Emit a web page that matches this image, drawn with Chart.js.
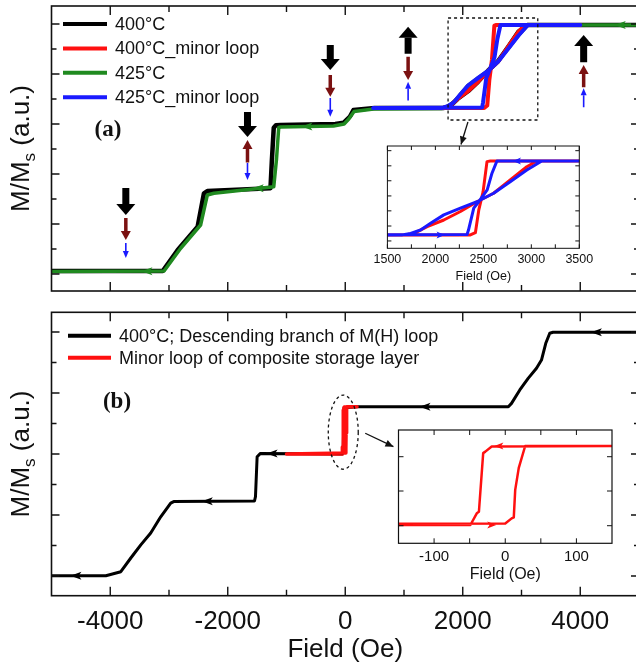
<!DOCTYPE html>
<html>
<head>
<meta charset="utf-8">
<script src="https://cdn.jsdelivr.net/npm/chart.js@4.4.0/dist/chart.umd.min.js"></script>
<style>
html, body { margin: 0; background: #fff; overflow: hidden; width: 636px; height: 669px; }
canvas { position: absolute; }
</style>
</head>
<body>
<canvas id="pa" width="700" height="300" style="left:0;top:0"></canvas>
<canvas id="pb" width="700" height="369" style="left:0;top:300px"></canvas>
<canvas id="ia" width="230" height="150" style="left:370px;top:140px"></canvas>
<canvas id="ib" width="240" height="170" style="left:380px;top:420px"></canvas>
<script>
// tick labels
const fieldTicks = [-4000, -2000, 0, 2000, 4000];
const fieldMinor = [-3000, -1000, 1000, 3000];
const insetATicks = [1500, 2000, 2500, 3000, 3500];
const insetBTicks = [-100, 0, 100];

// legend names
const seriesA = ['400°C', '400°C_minor loop', '425°C', '425°C_minor loop'];
const seriesB = ['400°C; Descending branch of M(H) loop', 'Minor loop of composite storage layer'];

// (a) [field Oe, M/Ms a.u.]
const a400 = [[5000,9.96],[3100,9.96],[2950,9.70],[2780,9.11],[2600,8.51],[2430,8.13],[2260,7.69],[2090,7.31],[1915,7.01],[1780,6.71],[1670,6.64],[500,6.64],[140,6.56],[80,6.30],[-30,6.05],[-170,6.00],[-1100,5.96],[-1180,5.95],[-1217,5.85],[-1250,4.50],[-1273,3.43],[-2348,3.32],[-2405,3.23],[-2513,1.89],[-2852,0.96],[-3107,0.12],[-5000,0.12]];
const a400minor = [[1000,6.64],[2365,6.64],[2417,6.74],[2452,7.75],[2497,8.57],[2538,9.93],[2573,9.96],[4000,9.96],[3057,9.96],[2953,9.70],[2780,9.11],[2607,8.51],[2434,8.13],[2261,7.69],[2088,7.31],[1915,7.01],[1777,6.71],[1673,6.64],[1000,6.64]];
const a425 = [[5000,9.96],[3110,9.96],[2950,9.55],[2780,9.03],[2600,8.51],[2430,8.13],[2260,7.84],[2090,7.54],[1950,7.16],[1845,6.86],[1740,6.71],[1650,6.62],[480,6.60],[150,6.50],[60,6.20],[-20,6.00],[-200,5.92],[-1100,5.88],[-1132,5.86],[-1170,4.60],[-1217,3.49],[-2235,3.23],[-2348,3.16],[-2462,1.96],[-2801,1.03],[-3084,0.12],[-5000,0.10]];
const a425minor = [[475,6.64],[2330,6.66],[2345,6.86],[2400,7.84],[2452,8.13],[2540,8.66],[2590,9.41],[2642,9.96],[4000,9.96],[3109,9.96],[2953,9.55],[2780,9.03],[2607,8.51],[2434,8.13],[2261,7.84],[2088,7.54],[1950,7.16],[1846,6.86],[1742,6.71],[1650,6.64],[475,6.64]];

// (b)
const b400 = [[5000,7.99],[3537,7.99],[3481,7.96],[3413,7.63],[3340,7.08],[3255,6.81],[3113,6.48],[2971,6.10],[2830,5.66],[2776,5.55],[200,5.55],[-20,5.52],[-35,4.10],[-50,4.00],[-1443,4.02],[-1500,3.91],[-1528,2.60],[-1545,2.46],[-2920,2.44],[-2971,2.39],[-3141,1.94],[-3311,1.41],[-3480,1.02],[-3650,0.59],[-3820,0.14],[-4075,0.01],[-5000,0.01]];
const bMinor = [[200,5.55],[-19,5.54],[-28,5.44],[-31,5.41],[-37,4.26],[-40,4.23],[-49,4.00],[-1000,4.00],[0,4.03],[9,4.13],[12,4.15],[14,4.69],[19,5.12],[28,5.55],[200,5.55]];

// field-state arrows of panel (a): [field, kind, from, to]
const stateArrows = [
  [-3735,'k',3.44,2.36],[-3735,'r',2.24,1.36],[-3735,'b',1.24,0.64],
  [-1664,'k',6.48,5.48],[-1664,'r',4.48,5.36],[-1664,'b',4.44,3.76],
  [-255,'k',9.16,8.16],[-255,'r',7.96,7.09],[-255,'b',7.04,6.29],
  [1070,'k',8.83,9.89],[1070,'r',8.69,7.76],[1070,'b',6.96,7.69],
  [4058,'k',8.49,9.56],[4058,'r',7.49,8.36],[4058,'b',6.69,7.43]
];

const RED = '#ff1010', BLUE = '#1a1aff', GREEN = '#208a20', MAROON = '#7b1111';
const arrowStyle = {
  k: { color: '#000', shaft: 7, w: 19, head: 11 },
  r: { color: MAROON, shaft: 3.5, w: 10, head: 9 },
  b: { color: BLUE, shaft: 1.6, w: 6, head: 7 }
};

Chart.defaults.font.family = "'Liberation Sans', Arial, sans-serif";
Chart.defaults.color = '#000';

const pts = a => a.map(([x, y]) => ({ x, y }));
const line = (label, data, color, width, order) => ({
  label, data: pts(data), borderColor: color, backgroundColor: color, borderWidth: width, order,
  pointRadius: 0, tension: 0, fill: false, borderJoinStyle: 'round', borderCapStyle: 'round'
});

function head(ctx, x0, y0, x1, y1, len, half) {
  const d = Math.hypot(x1 - x0, y1 - y0), ux = (x1 - x0) / d, uy = (y1 - y0) / d;
  ctx.beginPath();
  ctx.moveTo(x1, y1);
  ctx.lineTo(x1 - ux * len - uy * half, y1 - uy * len + ux * half);
  ctx.lineTo(x1 - ux * len + uy * half, y1 - uy * len - ux * half);
  ctx.closePath();
  ctx.fill();
}

const decor = {
  id: 'decor',
  beforeDatasetsDraw(chart, args, o) {
    if (!o.white) return;
    const { ctx, chartArea: a } = chart;
    ctx.save();
    ctx.fillStyle = '#fff';
    ctx.fillRect(a.left, a.top, a.width, a.height);
    ctx.restore();
  },
  afterDatasetsDraw(chart, args, o) {
    const { ctx, chartArea: a, scales: { x, y } } = chart;
    const X = v => x.getPixelForValue(v), Y = v => y.getPixelForValue(v);
    ctx.save();
    // direction marks on the curves
    (o.marks || []).forEach(([fx, fy, dir, col]) => {
      const px = X(fx), py = Y(fy), d = dir === 'L' ? -1 : 1, L = o.markLen, H = o.markHalf;
      ctx.fillStyle = col;
      ctx.beginPath();
      ctx.moveTo(px + d * L / 2, py);
      ctx.lineTo(px - d * L / 2, py - H);
      ctx.lineTo(px - d * L * 0.25, py);
      ctx.lineTo(px - d * L / 2, py + H);
      ctx.closePath();
      ctx.fill();
    });
    // state arrows
    (o.states || []).forEach(([fx, k, from, to]) => {
      const s = arrowStyle[k], px = X(fx), y0 = Y(from), y1 = Y(to);
      const dir = Math.sign(y1 - y0), base = y1 - dir * s.head;
      ctx.fillStyle = s.color;
      ctx.fillRect(px - s.shaft / 2, Math.min(y0, base), s.shaft, Math.abs(base - y0) + 0.5);
      ctx.beginPath();
      ctx.moveTo(px - s.w / 2, base);
      ctx.lineTo(px + s.w / 2, base);
      ctx.lineTo(px, y1);
      ctx.closePath();
      ctx.fill();
    });
    ctx.strokeStyle = '#111';
    ctx.fillStyle = '#111';
    ctx.lineWidth = 1.3;
    if (o.box) {
      const [x0, x1, y0, y1] = o.box;
      ctx.setLineDash([3, 3]);
      ctx.strokeRect(X(x0), Y(y1), X(x1) - X(x0), Y(y0) - Y(y1));
      ctx.setLineDash([]);
    }
    if (o.ellipse) {
      const [x0, x1, y0, y1] = o.ellipse;
      ctx.setLineDash([3, 3]);
      ctx.beginPath();
      ctx.ellipse((X(x0) + X(x1)) / 2, (Y(y0) + Y(y1)) / 2, (X(x1) - X(x0)) / 2, (Y(y0) - Y(y1)) / 2, 0, 0, Math.PI * 2);
      ctx.stroke();
      ctx.setLineDash([]);
    }
    if (o.pointer) {
      const [fx0, fy0, fx1, fy1] = o.pointer;
      const x0 = X(fx0), y0 = Y(fy0), x1 = X(fx1), y1 = Y(fy1);
      ctx.beginPath();
      ctx.moveTo(x0, y0);
      ctx.lineTo(x1, y1);
      ctx.stroke();
      head(ctx, x0, y0, x1, y1, 8, 3.5);
    }
    // frame with inward ticks on every side
    ctx.strokeStyle = '#111';
    ctx.lineWidth = o.frameWidth;
    ctx.strokeRect(a.left, a.top, a.width, a.height);
    const t = o.ticks;
    ctx.lineWidth = o.tickWidth;
    ctx.beginPath();
    [[t.x, t.xLen], [t.xMinor, t.xMinorLen]].forEach(([vals, len]) => vals.forEach(v => {
      const p = X(v);
      ctx.moveTo(p, a.bottom); ctx.lineTo(p, a.bottom - len);
      ctx.moveTo(p, a.top); ctx.lineTo(p, a.top + len);
    }));
    [[t.y, t.yLen], [t.yMinor, t.yMinorLen]].forEach(([vals, len]) => vals.forEach(v => {
      const p = Y(v);
      ctx.moveTo(a.left, p); ctx.lineTo(a.left + len, p);
      ctx.moveTo(a.right, p); ctx.lineTo(a.right - len, p);
    }));
    ctx.stroke();
    ctx.restore();
  },
  afterDraw(chart, args, o) {
    const ctx = chart.ctx;
    ctx.save();
    if (o.legend) {
      const L = o.legend;
      ctx.font = "18px 'Liberation Sans'";
      ctx.textBaseline = 'middle';
      chart.data.datasets.forEach((ds, i) => {
        const yy = L.y + i * L.dy;
        ctx.strokeStyle = ds.borderColor;
        ctx.lineWidth = 4;
        ctx.beginPath();
        ctx.moveTo(L.x0, yy);
        ctx.lineTo(L.x1, yy);
        ctx.stroke();
        ctx.fillStyle = '#111';
        ctx.fillText(ds.label, L.tx, yy + 1);
      });
    }
    if (o.tag) {
      ctx.font = "bold 23px 'Liberation Serif'";
      ctx.textAlign = 'center';
      ctx.textBaseline = 'middle';
      ctx.fillStyle = '#111';
      ctx.fillText(o.tag.text, o.tag.x, o.tag.y);
    }
    if (o.yTitle) {
      ctx.translate(o.yTitle.x, o.yTitle.y);
      ctx.rotate(-Math.PI / 2);
      ctx.fillStyle = '#111';
      ctx.textBaseline = 'middle';
      ctx.textAlign = 'left';
      const parts = [['M/M', 26, 0], ['s', 17, 8], [' (a.u.)', 26, 0]];
      let w = 0;
      parts.forEach(p => { ctx.font = p[1] + "px 'Liberation Sans'"; w += ctx.measureText(p[0]).width; });
      let xx = -w / 2;
      parts.forEach(p => {
        ctx.font = p[1] + "px 'Liberation Sans'";
        ctx.fillText(p[0], xx, p[2]);
        xx += ctx.measureText(p[0]).width;
      });
    }
    ctx.restore();
  }
};

const hidden = (min, max) => ({ type: 'linear', display: false, min, max });
const shownX = (min, max, ticks, size, titleSize, pad, titlePad, height) => ({
  type: 'linear', min, max, position: 'bottom',
  grid: { display: false, drawTicks: false }, border: { display: false },
  afterBuildTicks: s => { s.ticks = ticks.map(value => ({ value })); },
  ticks: { autoSkip: false, maxRotation: 0, padding: pad, font: { size }, color: '#111', callback: v => String(v) },
  title: { display: true, text: 'Field (Oe)', font: { size: titleSize }, color: '#111', padding: { top: 0, bottom: titlePad } },
  afterFit: s => { s.height = height; }
});

function make(id, datasets, scales, padding, decorOpts) {
  return new Chart(document.getElementById(id), {
    type: 'line',
    data: { datasets },
    options: {
      responsive: false, animation: false, events: [],
      layout: { padding },
      scales,
      plugins: { legend: { display: false }, tooltip: { enabled: false }, decor: decorOpts }
    },
    plugins: [decor]
  });
}

const odd = (a, b) => { const r = []; for (let v = a; v <= b; v += 2) r.push(v); return r; };

// panel (a)
make('pa', [
  line(seriesA[0], a400, '#000', 4.5, 3),
  line(seriesA[1], a400minor, RED, 4, 1),
  line(seriesA[2], a425, GREEN, 3.5, 2),
  line(seriesA[3], a425minor, BLUE, 4, 0)
], { x: hidden(-5000, 5000), y: hidden(-0.68, 10.72) },
{ left: 51.5, top: 6, right: 61, bottom: 9 },
{
  ticks: { x: fieldTicks, xLen: 9, xMinor: fieldMinor, xMinorLen: 6, y: odd(0, 10), yLen: 8, yMinor: odd(1, 9), yMinorLen: 5 },
  frameWidth: 1.6, tickWidth: 1.4, markLen: 11, markHalf: 4,
  marks: [[-3375, 0.11, 'L', GREEN], [-1481, 3.43, 'L', GREEN], [-652, 5.90, 'L', GREEN], [4681, 9.96, 'L', GREEN]],
  states: stateArrows,
  box: [1750, 3277, 6.16, 10.24],
  pointer: [2088, 6.08, 1970, 5.18],
  legend: { x0: 63, x1: 107, tx: 115, y: 24, dy: 24.4 },
  tag: { text: '(a)', x: 108, y: 130 },
  yTitle: { x: 22, y: 148.5 }
});

// panel (b)
make('pb', [
  line(seriesB[0], b400, '#000', 3, 1),
  line(seriesB[1], bMinor, RED, 3.5, 0)
], { x: shownX(-5000, 5000, fieldTicks, 26, 26, 11, 3.5, 73.3), y: hidden(-0.646, 8.646) },
{ left: 51.5, top: 12.3, right: 61, bottom: 0 },
{
  ticks: { x: fieldTicks, xLen: 9, xMinor: fieldMinor, xMinorLen: 6, y: odd(0, 8), yLen: 8, yMinor: odd(1, 7), yMinorLen: 5 },
  frameWidth: 1.6, tickWidth: 1.4, markLen: 11, markHalf: 4,
  marks: [[-4584, 0.01, 'L', '#000'], [-2348, 2.45, 'L', '#000'], [-1245, 4.02, 'L', '#000'], [1358, 5.55, 'L', '#000'], [4275, 7.99, 'L', '#000']],
  ellipse: [-289, 221, 3.50, 5.93],
  pointer: [340, 4.68, 820, 4.24],
  legend: { x0: 68, x1: 111, tx: 119, y: 35.7, dy: 22 },
  tag: { text: '(b)', x: 117, y: 102 },
  yTitle: { x: 22, y: 154 }
});

// inset of (a)
make('ia', [
  line(seriesA[1], a400minor, RED, 3, 1),
  line(seriesA[3], a425minor, BLUE, 3, 0)
], { x: shownX(1500, 3500, insetATicks, 12.5, 12.5, 3.5, 5.5, 41.7), y: hidden(6.04, 10.63) },
{ left: 16.7, top: 6, right: 20.7, bottom: 0 },
{
  white: true,
  ticks: { x: insetATicks, xLen: 4, xMinor: [1750, 2250, 2750, 3250], xMinorLen: 4, y: [6.37, 7.04, 7.72, 8.39, 9.07, 9.74, 10.42], yLen: 4, yMinor: [], yMinorLen: 0 },
  frameWidth: 1, tickWidth: 1, markLen: 8, markHalf: 3.5,
  marks: [[2054, 6.64, 'R', BLUE], [2850, 9.96, 'L', BLUE]]
});

// inset of (b)
make('ib', [
  line(seriesB[1], bMinor, RED, 2.5, 0)
], { x: shownX(-150, 150, insetBTicks, 15, 16, 4.5, 6, 46.7), y: hidden(3.641, 5.864) },
{ left: 18.5, top: 10, right: 8, bottom: 0 },
{
  white: true,
  ticks: { x: insetBTicks, xLen: 5, xMinor: [-50, 50], xMinorLen: 5, y: [3.986, 4.667, 5.34], yLen: 5, yMinor: [], yMinorLen: 0 },
  frameWidth: 1.2, tickWidth: 1, markLen: 9, markHalf: 3.5,
  marks: [[-9, 5.55, 'L', RED], [-19, 4.0, 'R', RED]]
});
</script>
</body>
</html>
